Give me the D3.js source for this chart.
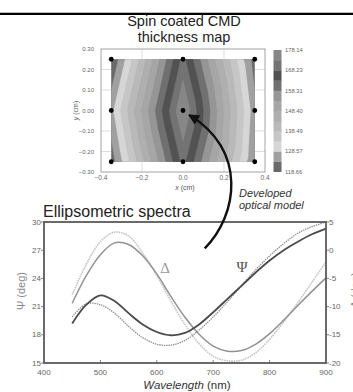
<!DOCTYPE html>
<html lang="en">
<head>
<meta charset="UTF-8">
<title>Spin coated CMD thickness map / Ellipsometric spectra</title>
<style>
  body { margin: 0; background: #fff; }
  svg { display: block; font-family: Arial, "Liberation Sans", sans-serif; }
  .tick { fill: #666; }
</style>
</head>
<body>
<div id="chart"></div>
<script src="https://d3js.org/d3.v7.min.js"></script>
<script>
// --- thickness map: measured points (cm) and thickness (nm), rows top -> bottom
const mapX = [-0.35, 0, 0.35];
const mapY = [0.25, 0, -0.25];
const thickTop = [118.66, 170.0, 121.0];
const thickMid = [127.0, 178.14, 125.5];
const thickBot = [121.0, 170.0, 123.5];
const barLabels = ["118.66", "128.57", "138.49", "148.40", "158.31", "168.23", "178.14"];
const mapXTicks = [-0.4, -0.2, 0.0, 0.2, 0.4];
const mapYTicks = [0.3, 0.2, 0.1, 0.0, -0.1, -0.2, -0.3];

// --- ellipsometric spectra
const wavelength = [450, 475, 500, 525, 550, 575, 600, 625, 650, 675, 700, 725, 750, 775, 800, 825, 850, 875, 900];
const psiExp   = [19.2, 21.2, 22.2, 21.6, 20.3, 19.1, 18.3, 17.95, 18.2, 19.1, 20.4, 21.8, 23.2, 24.6, 25.9, 27.0, 27.9, 28.7, 29.3];
const psiFit   = [19.9, 21.3, 21.2, 20.3, 18.9, 17.7, 17.0, 16.9, 17.4, 18.5, 19.9, 21.5, 23.2, 24.9, 26.4, 27.7, 28.8, 29.5, 30.0];
const deltaExp = [-9.4, -4.5, -0.8, 1.3, 1.0, -1.0, -4.2, -8.2, -11.9, -14.9, -17.0, -17.9, -17.8, -16.7, -14.8, -12.4, -9.8, -7.3, -4.9];
const deltaFit = [-7.9, -2.5, 1.5, 3.2, 2.5, -0.5, -4.5, -9.0, -13.2, -16.6, -18.8, -19.6, -19.5, -18.2, -15.8, -12.7, -9.3, -5.7, -2.1];
const wlTicks = [400, 500, 600, 700, 800, 900];
const psiTicks = [15, 18, 21, 24, 27, 30];
const deltaTicks = [-20, -15, -10, -5, 0, 5];

const W = 353, H = 392;
const svg = d3.select("#chart").append("svg").attr("width", W).attr("height", H);

// top rule
svg.append("line").attr("x1", 0).attr("x2", W).attr("y1", 13.8).attr("y2", 13.8)
  .attr("stroke", "#000").attr("stroke-width", 2.3);

// ================= thickness map =================
const mx = d3.scaleLinear().domain([-0.4, 0.4]).range([101, 265]);
const my = d3.scaleLinear().domain([-0.3, 0.3]).range([172, 49]);

svg.append("text").attr("x", 184).attr("y", 26).attr("text-anchor", "middle")
  .attr("font-size", 14.5).attr("fill", "#222").text("Spin coated CMD");
svg.append("text").attr("x", 184).attr("y", 41.5).attr("text-anchor", "middle")
  .attr("font-size", 14.5).attr("fill", "#222").text("thickness map");

// grid lines
const grid = svg.append("g").attr("stroke", "#d0d0d0").attr("stroke-width", 0.7);
[-0.2, 0.2].forEach(v => grid.append("line").attr("x1", mx(v)).attr("x2", mx(v)).attr("y1", my(0.3)).attr("y2", my(-0.3)));
[-0.2, -0.1, 0.1, 0.2].forEach(v => grid.append("line").attr("y1", my(v)).attr("y2", my(v)).attr("x1", mx(-0.4)).attr("x2", mx(0.4)));

// triangle-linear interpolation of the 3x3 measurements
const thick = [thickTop, thickMid, thickBot];
function interp(x, y) {
  const c = x <= 0 ? 0 : 1, r = y >= 0 ? 0 : 1;
  const u = (x - mapX[c]) / (mapX[c + 1] - mapX[c]);
  const v = (mapY[r] - y) / (mapY[r] - mapY[r + 1]);
  const p00 = thick[r][c], p10 = thick[r][c + 1], p01 = thick[r + 1][c], p11 = thick[r + 1][c + 1];
  const mainDiag = (c === r); // diagonals run through the centre point
  if (mainDiag) {
    return u >= v ? p00 + u * (p10 - p00) + v * (p11 - p10)
                  : p00 + v * (p01 - p00) + u * (p11 - p01);
  }
  return u + v <= 1 ? p00 + u * (p10 - p00) + v * (p01 - p00)
                    : p11 + (1 - u) * (p01 - p11) + (1 - v) * (p10 - p11);
}

const step = 0.0025;
const nx = Math.round((mapX[2] - mapX[0]) / step) + 1;
const ny = Math.round((mapY[0] - mapY[2]) / step) + 1;
const grid2 = new Array(nx * ny);
for (let j = 0; j < ny; j++)
  for (let i = 0; i < nx; i++)
    grid2[j * nx + i] = interp(Math.min(mapX[0] + i * step, mapX[2]), Math.max(mapY[0] - j * step, mapY[2]));

const tMin = +barLabels[0], tMax = +barLabels[barLabels.length - 1];
const nBands = 12;
const levels = d3.range(nBands).map(i => tMin + i * (tMax - tMin) / nBands);
const bandGray = [105, 160, 214, 198, 185, 175, 166, 150, 112, 82, 115, 135];
const bandColor = i => d3.rgb(bandGray[i], bandGray[i], bandGray[i]).toString();

const proj = d3.geoTransform({
  point(x, y) { this.stream.point(mx(mapX[0] + (x - 0.5) * step), my(mapY[0] - (y - 0.5) * step)); }
});
const cpath = d3.geoPath(proj);

svg.append("clipPath").attr("id", "mapclip").append("rect")
  .attr("x", mx(mapX[0])).attr("y", my(mapY[0]))
  .attr("width", mx(mapX[2]) - mx(mapX[0])).attr("height", my(mapY[2]) - my(mapY[0]));

const contours = d3.contours().size([nx, ny]).thresholds(levels)(grid2);
svg.append("g").attr("clip-path", "url(#mapclip)")
  .selectAll("path").data(contours).join("path")
  .attr("d", cpath)
  .attr("fill", (d, i) => bandColor(i))
  .attr("stroke", (d, i) => bandColor(i)).attr("stroke-width", 0.3);

// frame
svg.append("rect").attr("x", mx(-0.4)).attr("y", my(0.3))
  .attr("width", mx(0.4) - mx(-0.4)).attr("height", my(-0.3) - my(0.3))
  .attr("fill", "none").attr("stroke", "#999").attr("stroke-width", 0.9);

// measurement points
const pts = [];
mapY.forEach((yv, r) => mapX.forEach((xv, c) => pts.push([xv, yv])));
svg.append("g").selectAll("circle").data(pts).join("circle")
  .attr("cx", d => mx(d[0])).attr("cy", d => my(d[1])).attr("r", 2.4).attr("fill", "#000");

// map axes labels
svg.append("g").selectAll("text").data(mapYTicks).join("text")
  .attr("class", "tick").attr("x", 94).attr("y", d => my(d) + 2)
  .attr("text-anchor", "end").attr("font-size", 6).text(d => d3.format(".2f")(d));
svg.append("g").selectAll("text").data(mapXTicks).join("text")
  .attr("class", "tick").attr("x", d => mx(d)).attr("y", 179.5)
  .attr("text-anchor", "middle").attr("font-size", 6.5).text(d => d3.format(".1f")(d));
const xl = svg.append("text").attr("x", 185).attr("y", 189.5).attr("text-anchor", "middle")
  .attr("font-size", 7).attr("fill", "#555");
xl.append("tspan").attr("font-style", "italic").text("x");
xl.append("tspan").text(" (cm)");
const yl = svg.append("text").attr("transform", "translate(78,110.5) rotate(-90)")
  .attr("text-anchor", "middle").attr("font-size", 7).attr("fill", "#555");
yl.append("tspan").attr("font-style", "italic").text("y");
yl.append("tspan").text(" (cm)");

// colour bar
const by = d3.scaleLinear().domain([tMin, tMax]).range([171.7, 50]);
svg.append("g").selectAll("rect").data(levels).join("rect")
  .attr("x", 273.5).attr("width", 8)
  .attr("y", d => by(d + (tMax - tMin) / nBands))
  .attr("height", d => by(d) - by(d + (tMax - tMin) / nBands) + 0.3)
  .attr("fill", (d, i) => bandColor(i));
svg.append("g").selectAll("text").data(barLabels).join("text")
  .attr("class", "tick").attr("x", 285).attr("y", d => by(+d) + 2)
  .attr("font-size", 5.8).text(d => d);

// ================= ellipsometric spectra =================
const sx = d3.scaleLinear().domain([400, 900]).range([44, 326]);
const sPsi = d3.scaleLinear().domain([15, 30]).range([363, 222]);
const sDel = d3.scaleLinear().domain([-20, 5]).range([363, 222]);

svg.append("text").attr("x", 43).attr("y", 216.5).attr("font-size", 16).attr("fill", "#222")
  .text("Ellipsometric spectra");

const lineGen = ys => d3.line().x((d, i) => sx(wavelength[i])).y(d => ys(d)).curve(d3.curveCatmullRom);

const plot = svg.append("g");
plot.append("path").datum(deltaFit).attr("d", lineGen(sDel))
  .attr("fill", "none").attr("stroke", "#c6c6c6").attr("stroke-width", 1.6).attr("stroke-dasharray", "1.6 0.8");
plot.append("path").datum(deltaExp).attr("d", lineGen(sDel))
  .attr("fill", "none").attr("stroke", "#929292").attr("stroke-width", 1.5);
plot.append("path").datum(psiFit).attr("d", lineGen(sPsi))
  .attr("fill", "none").attr("stroke", "#8e8e8e").attr("stroke-width", 1.3).attr("stroke-dasharray", "1.4 0.9");
plot.append("path").datum(psiExp).attr("d", lineGen(sPsi))
  .attr("fill", "none").attr("stroke", "#4a4a4a").attr("stroke-width", 1.8);

// frame
svg.append("rect").attr("x", sx(400)).attr("y", sPsi(30))
  .attr("width", sx(900) - sx(400)).attr("height", sPsi(15) - sPsi(30))
  .attr("fill", "none").attr("stroke", "#5a5a5a").attr("stroke-width", 1.8);

// ticks and labels
const tk = svg.append("g").attr("stroke", "#666").attr("stroke-width", 0.8);
psiTicks.forEach(v => tk.append("line").attr("x1", sx(400) - 3).attr("x2", sx(400)).attr("y1", sPsi(v)).attr("y2", sPsi(v)));
deltaTicks.forEach(v => tk.append("line").attr("x1", sx(900)).attr("x2", sx(900) + 3).attr("y1", sDel(v)).attr("y2", sDel(v)));
wlTicks.forEach(v => tk.append("line").attr("x1", sx(v)).attr("x2", sx(v)).attr("y1", sPsi(15)).attr("y2", sPsi(15) - 3));

svg.append("g").selectAll("text").data(psiTicks).join("text")
  .attr("class", "tick").attr("x", 41).attr("y", d => sPsi(d) + 2.5)
  .attr("text-anchor", "end").attr("font-size", 8).text(d => d);
svg.append("g").selectAll("text").data(deltaTicks).join("text")
  .attr("class", "tick").attr("x", 329).attr("y", d => sDel(d) + 2.5)
  .attr("font-size", 8).text(d => d);
svg.append("g").selectAll("text").data(wlTicks).join("text")
  .attr("class", "tick").attr("x", d => sx(d)).attr("y", 375)
  .attr("text-anchor", "middle").attr("font-size", 8).text(d => d);

const wl = svg.append("text").attr("x", 187).attr("y", 389).attr("text-anchor", "middle")
  .attr("font-size", 11.5).attr("fill", "#333");
wl.append("tspan").attr("font-style", "italic").text("Wavelength");
wl.append("tspan").text(" (nm)");

svg.append("text").attr("transform", "translate(25,291) rotate(-90)").attr("text-anchor", "middle")
  .attr("font-size", 11).attr("fill", "#888").text("Ψ (deg)");
svg.append("text").attr("transform", "translate(359,290) rotate(-90)").attr("text-anchor", "middle")
  .attr("font-size", 11).attr("fill", "#888").text("Δ (deg)");

svg.append("text").attr("x", 165).attr("y", 273).attr("text-anchor", "middle")
  .attr("font-family", "'Liberation Serif', serif").attr("font-size", 15).attr("fill", "#9a9a9a").text("Δ");
svg.append("text").attr("x", 242).attr("y", 272).attr("text-anchor", "middle")
  .attr("font-family", "'Liberation Serif', serif").attr("font-size", 15).attr("fill", "#555").text("Ψ");

// ================= annotation arrow =================
svg.append("defs").append("marker").attr("id", "head")
  .attr("viewBox", "0 0 10 10").attr("refX", 9).attr("refY", 5)
  .attr("markerWidth", 5).attr("markerHeight", 4.5).attr("orient", "auto")
  .attr("markerUnits", "strokeWidth")
  .append("path").attr("d", "M0,0 L10,5 L0,10 Z").attr("fill", "#111");

const tail = [sx(685), sPsi(27.2)];
const tip = [mx(0.03), my(-0.022)];
svg.append("path")
  .attr("d", `M${tail[0]},${tail[1]} C${tail[0] + 33},${tail[1] - 33} ${tail[0] + 43},${tip[1] + 35} ${tip[0]},${tip[1]}`)
  .attr("fill", "none").attr("stroke", "#111").attr("stroke-width", 2.4)
  .attr("marker-end", "url(#head)");

svg.append("text").attr("x", 239).attr("y", 197).attr("font-size", 11).attr("font-style", "italic")
  .attr("fill", "#333").text("Developed");
svg.append("text").attr("x", 239).attr("y", 209).attr("font-size", 11).attr("font-style", "italic")
  .attr("fill", "#333").text("optical model");
</script>
</body>
</html>
